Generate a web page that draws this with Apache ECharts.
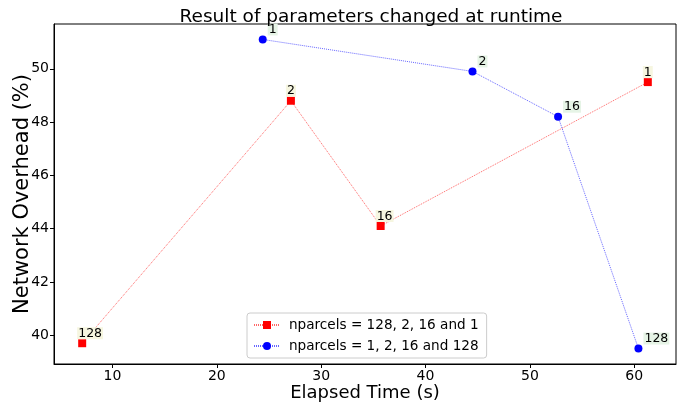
<!DOCTYPE html>
<html>
<head>
<meta charset="utf-8">
<script src="https://cdn.jsdelivr.net/npm/echarts@6/dist/echarts.min.js"></script>
<style>
  html, body { margin: 0; padding: 0; background: #fff; }
  #chart { width: 686px; height: 407px; }
</style>
</head>
<body>
<div id="chart"></div>
<script>
  // nparcels = 128, 2, 16 and 1
  var redX = [7.1, 27.1, 35.7, 61.3];
  var redY = [39.7, 48.8, 44.1, 49.5];
  var redLabels = ['128', '2', '16', '1'];
  // nparcels = 1, 2, 16 and 128
  var blueX = [24.4, 44.5, 52.7, 60.4];
  var blueY = [51.1, 49.9, 48.2, 39.5];
  var blueLabels = ['1', '2', '16', '128'];

  var xTicks = [10, 20, 30, 40, 50, 60];
  var yTicks = [40, 42, 44, 46, 48, 50];

  var font = 'DejaVu Sans';

  function pairs(xs, ys) {
    return xs.map(function (x, i) { return [x, ys[i]]; });
  }

  var chartDom = document.getElementById('chart');
  var myChart = echarts.init(chartDom, null, { renderer: 'canvas' });
  var option = {
    animation: false,
    backgroundColor: '#fff',
    title: {
      text: 'Result of parameters changed at runtime',
      left: 366,
      textAlign: 'center',
      top: 3,
      textStyle: { fontFamily: font, fontSize: 18.5, fontWeight: 'normal', color: '#000' }
    },
    grid: {
      left: 54, right: 10, top: 24, bottom: 43,
      outerBoundsMode: 'none',
      containLabel: false,
      show: true, borderColor: '#000', borderWidth: 1, backgroundColor: 'transparent'
    },
    legend: {
      orient: 'vertical',
      left: 247, top: 313,
      padding: [5, 8, 5, 6],
      itemGap: 7,
      itemWidth: 26, itemHeight: 10,
      backgroundColor: '#fff',
      borderColor: '#ccc', borderWidth: 1, borderRadius: 3,
      textStyle: { fontFamily: font, fontSize: 13.6, color: '#000', padding: [0, 0, 0, 4] },
      data: ['nparcels = 128, 2, 16 and 1', 'nparcels = 1, 2, 16 and 128']
    },
    xAxis: {
      type: 'value',
      min: 4.4, max: 64.0,
      name: 'Elapsed Time (s)',
      nameLocation: 'middle',
      nameGap: 20,
      nameMoveOverlap: false,
      nameTextStyle: { fontFamily: font, fontSize: 18, color: '#000' },
      axisLine: { show: true, onZero: false, lineStyle: { color: '#000', width: 1 } },
      axisTick: { show: true, length: 4, lineStyle: { color: '#000' }, customValues: xTicks },
      axisLabel: { fontFamily: font, fontSize: 14, color: '#000', margin: 5, customValues: xTicks },
      splitLine: { show: false }
    },
    yAxis: {
      type: 'value',
      min: 38.92, max: 51.68,
      name: 'Network Overhead (%)',
      nameLocation: 'middle',
      nameGap: 21,
      nameMoveOverlap: false,
      nameTextStyle: { fontFamily: font, fontSize: 21, color: '#000' },
      axisLine: { show: true, onZero: false, lineStyle: { color: '#000', width: 1 } },
      axisTick: { show: true, length: 4, lineStyle: { color: '#000' }, customValues: yTicks },
      axisLabel: { fontFamily: font, fontSize: 14, color: '#000', margin: 5, customValues: yTicks },
      splitLine: { show: false }
    },
    series: [
      {
        name: 'nparcels = 128, 2, 16 and 1',
        type: 'line',
        data: pairs(redX, redY),
        symbol: 'rect',
        symbolSize: 8,
        itemStyle: { color: '#ff0000' },
        lineStyle: { color: 'rgba(255,0,0,0.6)', width: 1, type: [1, 1] },
        label: {
          show: true,
          position: [-1, 0],
          align: 'left',
          verticalAlign: 'bottom',
          fontFamily: font, fontSize: 12.5, color: '#000',
          backgroundColor: '#f6f6e0',
          padding: [0, 1, -1, 1],
          formatter: function (p) { return redLabels[p.dataIndex]; }
        }
      },
      {
        name: 'nparcels = 1, 2, 16 and 128',
        type: 'line',
        data: pairs(blueX, blueY),
        symbol: 'circle',
        symbolSize: 8,
        itemStyle: { color: '#0000ff' },
        lineStyle: { color: 'rgba(0,0,255,0.6)', width: 1, type: [1, 1] },
        label: {
          show: true,
          position: [9, 0],
          align: 'left',
          verticalAlign: 'bottom',
          fontFamily: font, fontSize: 12.5, color: '#000',
          backgroundColor: '#e6f4e6',
          padding: [0, 1, -1, 1],
          formatter: function (p) { return blueLabels[p.dataIndex]; }
        }
      }
    ]
  };
  option && myChart.setOption(option);
</script>
</body>
</html>
